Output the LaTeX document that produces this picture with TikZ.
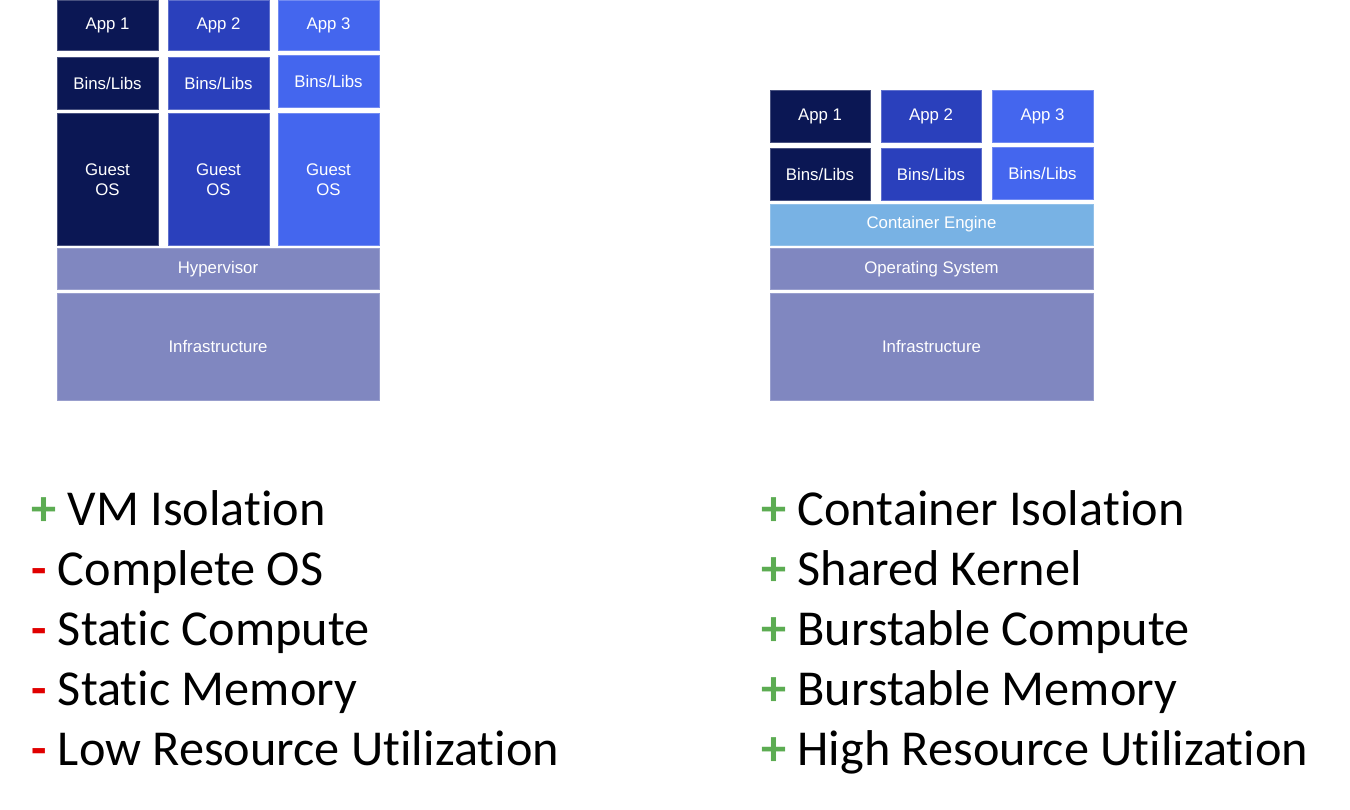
\documentclass[tikz,border=0pt]{standalone}
\usepackage{fontspec}
\setmainfont{Carlito}[Ligatures={NoCommon,NoRare,NoContextual}]
\newfontfamily\boxfont{Liberation Sans}
\definecolor{cA}{RGB}{11,23,84}
\definecolor{cB}{RGB}{42,64,188}
\definecolor{cC}{RGB}{68,102,238}
\definecolor{cH}{RGB}{128,135,192}
\definecolor{cE}{RGB}{120,178,228}
\definecolor{cPlus}{RGB}{92,172,82}
\definecolor{cMinus}{RGB}{224,0,0}
\begin{document}
\begin{tikzpicture}[x=1pt,y=-1pt,
  layer/.style={rectangle, inner sep=0pt, outer sep=0pt, line width=0.7pt,
    text=white, align=center, font=\boxfont\fontsize{16.8}{20}\selectfont},
  la/.style={layer, fill=cA, draw=cA!75!white},
  lb/.style={layer, fill=cB, draw=cB!75!white},
  lc/.style={layer, fill=cC, draw=cC!75!white},
  lh/.style={layer, fill=cH, draw=cH!80!white},
  le/.style={layer, fill=cE, draw=cE!80!white},
  item/.style={anchor=base west, inner sep=0pt, font=\fontsize{50.3}{60}\selectfont}]
\useasboundingbox (0,0) rectangle (1350,810);
% ---------- left stack (VM) ----------
\node[la, minimum width=101, minimum height=50] (lapp1) at (107.5,25.5) {App 1};
\node[lb, minimum width=101, minimum height=50] (lapp2) at (218.5,25.5) {App 2};
\node[lc, minimum width=101, minimum height=50] (lapp3) at (328.5,25.5) {App 3};
\node[la, minimum width=101, minimum height=52] (lbin1) at (107.5,83) {Bins/Libs};
\node[lb, minimum width=101, minimum height=52] (lbin2) at (218.5,83) {Bins/Libs};
\node[lc, minimum width=101, minimum height=52] (lbin3) at (328.5,81.5) {Bins/Libs};
\node[la, minimum width=101, minimum height=131.5] (los1) at (107.5,179.25) {Guest\\OS};
\node[lb, minimum width=101, minimum height=131.5] (los2) at (218.5,179.25) {Guest\\OS};
\node[lc, minimum width=101, minimum height=131.5] (los3) at (328.5,179.25) {Guest\\OS};
\node[lh, minimum width=322, minimum height=41] (hyp) at (218,269) {Hypervisor};
\node[lh, minimum width=322, minimum height=107] (linf) at (218,346.5) {Infrastructure};
% ---------- right stack (containers) ----------
\node[la, minimum width=100, minimum height=52] (rapp1) at (820,116) {App 1};
\node[lb, minimum width=100, minimum height=52] (rapp2) at (931,116) {App 2};
\node[lc, minimum width=101, minimum height=52] (rapp3) at (1042.5,116) {App 3};
\node[la, minimum width=100, minimum height=52] (rbin1) at (820,174.5) {Bins/Libs};
\node[lb, minimum width=100, minimum height=52] (rbin2) at (931,174.5) {Bins/Libs};
\node[lc, minimum width=101, minimum height=52] (rbin3) at (1042.5,173) {Bins/Libs};
\node[le, minimum width=323, minimum height=41] (eng) at (931.5,224.5) {Container Engine};
\node[lh, minimum width=323, minimum height=41] (ros) at (931.5,269) {Operating System};
\node[lh, minimum width=323, minimum height=107.5] (rinf) at (931.5,346.75) {Infrastructure};
% ---------- lists ----------
\newcommand{\pp}{{\color{cPlus}\bfseries +}}
\newcommand{\mm}{{\color{cMinus}\bfseries -}}
\node[item] (l1) at (31,525) {\pp{} VM Isolation};
\node[item] (l2) at (31,585) {\mm{} Complete OS};
\node[item] (l3) at (31,645) {\mm{} Static Compute};
\node[item] (l4) at (31,705) {\mm{} Static Memory};
\node[item] (l5) at (31,765) {\mm{} Low Resource Utilization};
\node[item] (r1) at (761,525) {\pp{} Container Isolation};
\node[item] (r2) at (761,585) {\pp{} Shared Kernel};
\node[item] (r3) at (761,645) {\pp{} Burstable Compute};
\node[item] (r4) at (761,705) {\pp{} Burstable Memory};
\node[item] (r5) at (761,765) {\pp{} High Resource Utilization};
\end{tikzpicture}
\end{document}
